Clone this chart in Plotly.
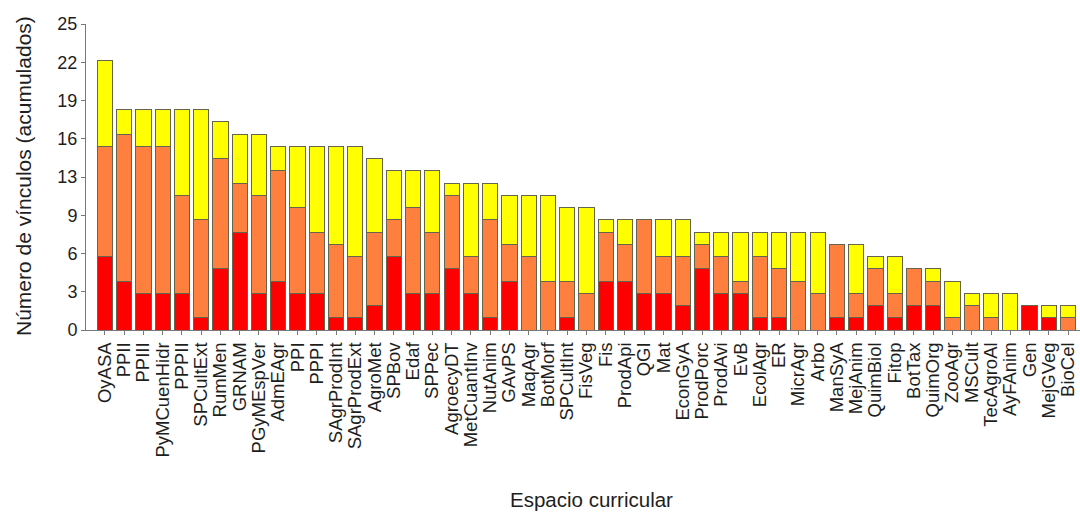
import plotly.graph_objects as go

categories = ["OyASA", "PPII", "PPIII", "PyMCuenHidr", "PPPII", "SPCultExt", "RumMen", "GRNAM",
              "PGyMEspVer", "AdmEAgr", "PPI", "PPPI", "SAgrProdInt", "SAgrProdExt", "AgroMet",
              "SPBov", "Edaf", "SPPec", "AgroecyDT", "MetCuantInv", "NutAnim", "GAvPS", "MaqAgr",
              "BotMorf", "SPCultInt", "FisVeg", "Fis", "ProdApi", "QGI", "Mat", "EconGyA",
              "ProdPorc", "ProdAvi", "EvB", "EcolAgr", "ER", "MicrAgr", "Arbo", "ManSyA",
              "MejAnim", "QuimBiol", "Fitop", "BotTax", "QuimOrg", "ZooAgr", "MSCult",
              "TecAgroAl", "AyFAnim", "Gen", "MejGVeg", "BioCel"]

red_vals = [6, 4, 3, 3, 3, 1, 5, 8, 3, 4, 3, 3, 1, 1, 2, 6, 3, 3, 5, 3, 1, 4, 0, 0, 1, 0,
            4, 4, 3, 3, 2, 5, 3, 3, 1, 1, 0, 0, 1, 1, 2, 1, 2, 2, 0, 0, 0, 0, 2, 1, 0]
orange_vals = [9, 12, 12, 12, 8, 8, 9, 4, 8, 9, 7, 5, 6, 5, 6, 3, 7, 5, 6, 3, 8, 3, 6, 4, 3, 3,
               4, 3, 6, 3, 4, 2, 3, 1, 5, 4, 4, 3, 6, 2, 3, 2, 3, 2, 1, 2, 1, 0, 0, 0, 1]
yellow_vals = [7, 2, 3, 3, 7, 9, 3, 4, 5, 2, 5, 7, 8, 9, 6, 4, 3, 5, 1, 6, 3, 4, 5, 7, 6, 7,
               1, 2, 0, 3, 3, 1, 2, 4, 2, 3, 4, 5, 0, 4, 1, 3, 0, 1, 3, 1, 2, 3, 0, 1, 1]

y_tickvals = [0, 3.125, 6.25, 9.375, 12.5, 15.625, 18.75, 21.875, 25]
y_ticktext = ["0", "3", "6", "9", "13", "16", "19", "22", "25"]

FONT = "Liberation Sans, Arial, sans-serif"
TXT = "#1e1e1e"
outline = dict(color="#64644f", width=1)

L, T, BOTTOM, RIGHT = 86, 24, 330, 1080
W, H = 1080, 513

fig = go.Figure()
for name, vals, col in [("Alto", red_vals, "#ff0000"),
                        ("Medio", orange_vals, "#ff7f3f"),
                        ("Bajo", yellow_vals, "#ffff00")]:
    fig.add_trace(go.Bar(x=list(range(len(categories))), y=vals, name=name,
                         marker=dict(color=col, line=outline)))

plot_w = RIGHT - L
plot_h = BOTTOM - T

fig.update_layout(
    barmode="stack",
    bargap=0.21,
    width=W, height=H,
    margin=dict(l=L, r=W - RIGHT, t=T, b=H - BOTTOM),
    plot_bgcolor="white", paper_bgcolor="white",
    showlegend=False,
    font=dict(family=FONT, color=TXT),
    xaxis=dict(
        tickmode="array",
        tickvals=list(range(len(categories))),
        ticktext=categories,
        tickangle=-90,
        tickfont=dict(size=18.5, family=FONT, color=TXT),
        ticklabeloverflow="allow",
        range=[-0.98, 50.62],
        automargin=False,
        showgrid=False, zeroline=False,
        showline=True, linecolor="#777777", linewidth=1,
        ticks="outside", ticklen=4, tickcolor="#777777",
    ),
    yaxis=dict(
        range=[0, 25],
        tickmode="array",
        tickvals=y_tickvals,
        ticktext=y_ticktext,
        tickfont=dict(size=18, family=FONT, color=TXT),
        automargin=False,
        showgrid=False, zeroline=False,
        showline=True, linecolor="#777777", linewidth=1,
        ticks="outside", ticklen=4, tickcolor="#777777",
    ),
    annotations=[
        dict(text="Número de vínculos (acumulados)", xref="paper", yref="paper",
             x=(23 - L) / plot_w, y=(BOTTOM - 176) / plot_h, textangle=-90, showarrow=False,
             xanchor="center", yanchor="middle",
             font=dict(size=21, family=FONT, color=TXT)),
        dict(text="Espacio curricular", xref="paper", yref="paper",
             x=(591 - L) / plot_w, y=(BOTTOM - 499) / plot_h, showarrow=False,
             xanchor="center", yanchor="middle",
             font=dict(size=20.5, family=FONT, color=TXT)),
    ],
)

fig.write_html(
    "out.html",
    config={"displayModeBar": False},
    post_script="document.body.style.margin='0';document.body.style.overflow='hidden';",
)
